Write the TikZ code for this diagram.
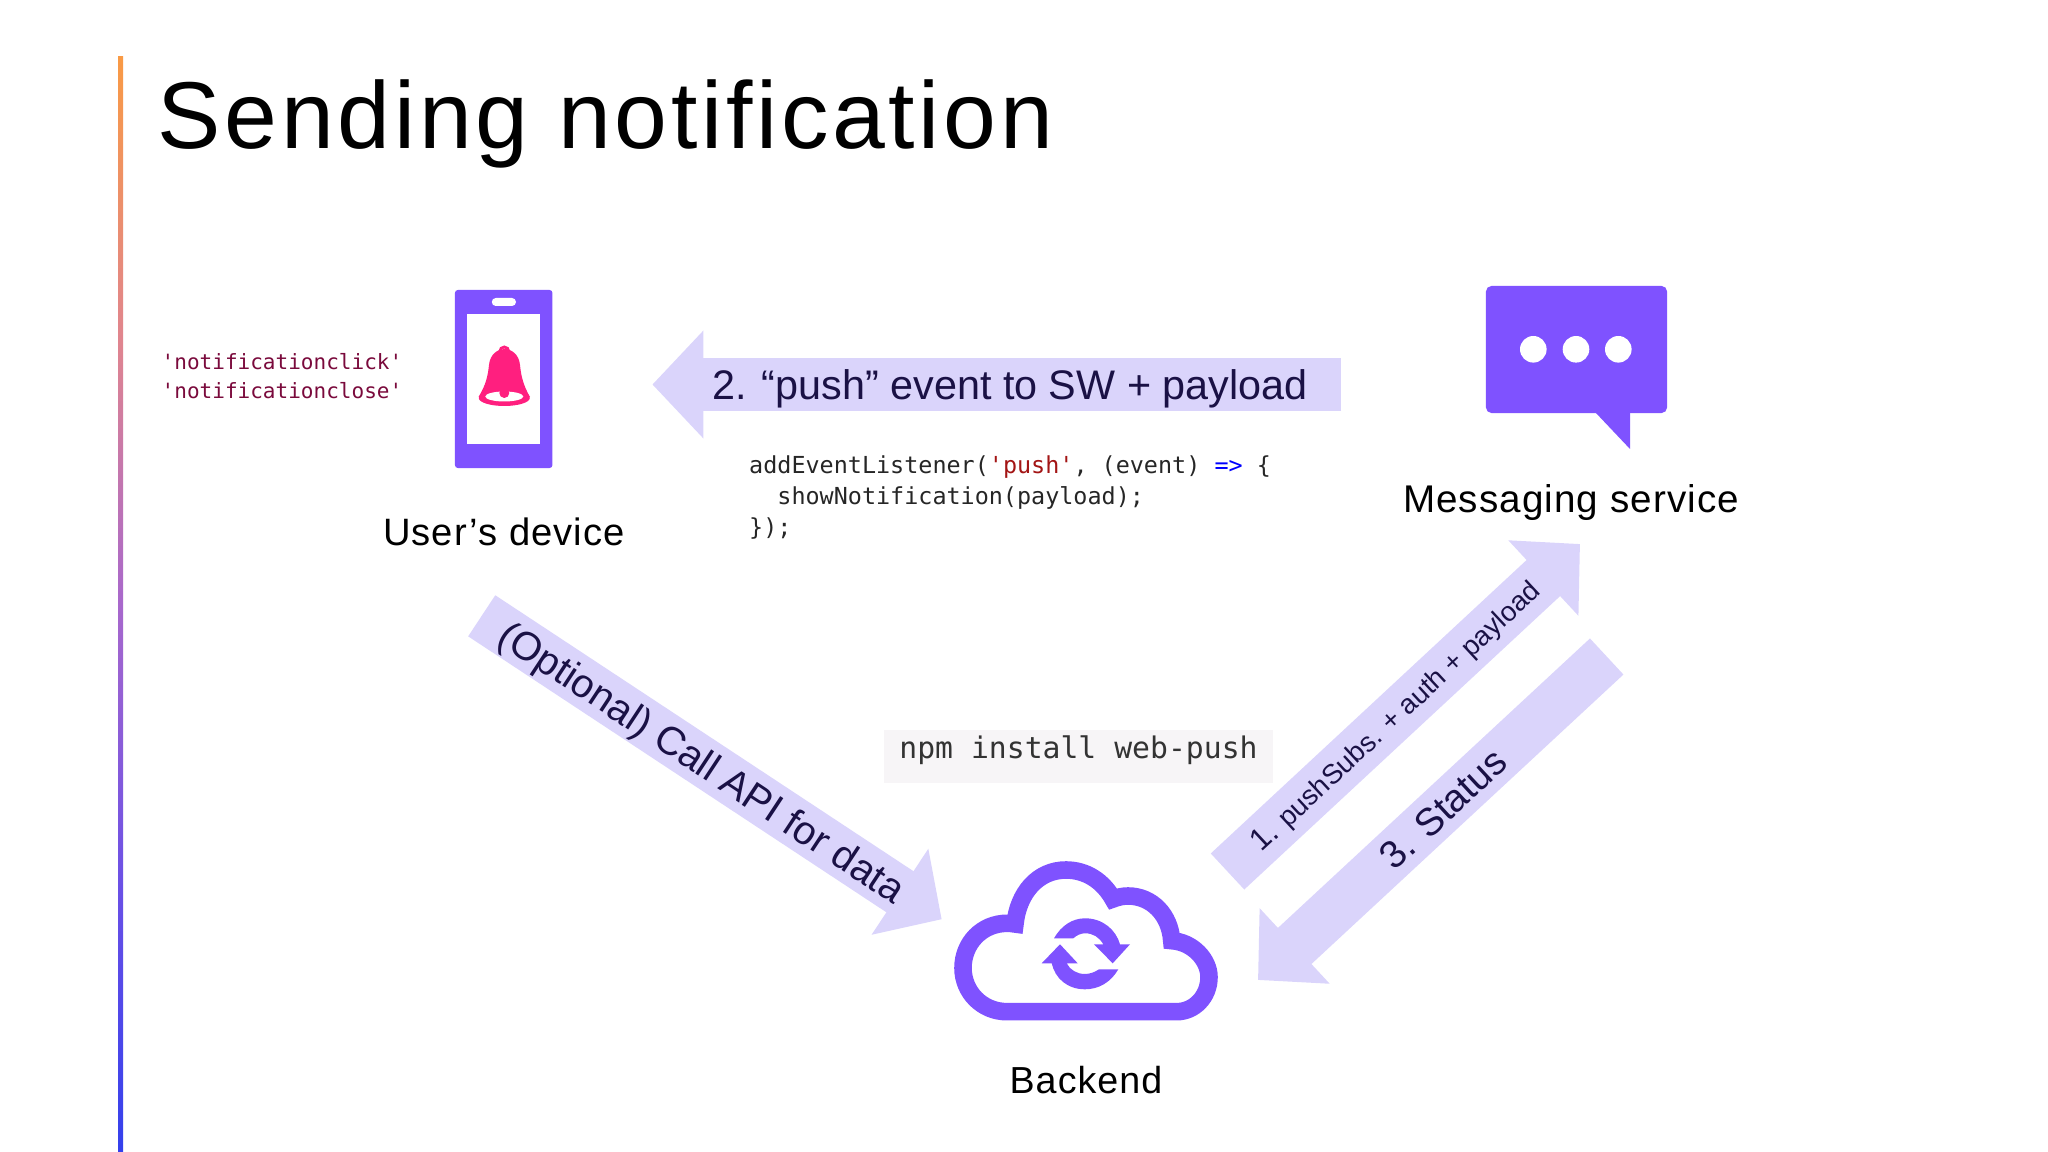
\documentclass[tikz,border=0pt]{standalone}
\usepackage{fontspec}
\setmainfont{Liberation Sans}
\setmonofont{DejaVu Sans Mono}
\usetikzlibrary{arrows.meta,shapes.geometric}

\definecolor{iconviolet}{HTML}{7F52FF}
\definecolor{flowfill}{HTML}{DAD4FB}
\definecolor{flowink}{HTML}{1A1145}
\definecolor{bellpink}{HTML}{FF1F7F}
\definecolor{eventred}{HTML}{7A0A3C}
\definecolor{stringred}{HTML}{A31515}
\definecolor{installbg}{HTML}{F7F5F7}
\definecolor{barone}{HTML}{3440EC}
\definecolor{bartwo}{HTML}{6A50E6}
\definecolor{barthree}{HTML}{A868CC}
\definecolor{barfour}{HTML}{E0858F}
\definecolor{barfive}{HTML}{F99A45}

\pgfdeclareverticalshading{barfade}{100bp}{
  color(0bp)=(barone);
  color(25bp)=(barone);
  color(37bp)=(bartwo);
  color(50bp)=(barthree);
  color(62bp)=(barfour);
  color(75bp)=(barfive);
  color(100bp)=(barfive)}

\begin{document}
\begin{tikzpicture}[x=0.01cm,y=-0.01cm,
                    flowtext/.style={font=\fontsize{#1}{#1}\selectfont,text=flowink,
                      text depth=0pt,text height=0.716*#1pt,inner sep=0pt},
                    caption/.style={font=\fontsize{#1}{#1}\selectfont\addfontfeature{LetterSpace=2.8},
                      anchor=base,text=black}]
  \tikzstyle{flow}=[line width=14pt,draw=flowfill,-{Triangle[length=0.5cm,width=1cm,color=flowfill]}]
  \tikzstyle{icon}=[fill=iconviolet,draw=none,inner sep=0pt,rounded corners=0.03cm]
  \tikzstyle{cloudline}=[draw=iconviolet,line width=5pt,miter limit=4,fill=white]

  \useasboundingbox (0,0) rectangle (2048,1152);

  \shade[shading=barfade] (118,57) rectangle (123,1152);
  \node[anchor=base west,inner sep=0pt,font=\fontsize{27}{27}\selectfont\addfontfeature{LetterSpace=3.9}]
        (title) at (157,149) {Sending notification};

  \node[icon,minimum width=0.975cm,minimum height=1.78cm] (phone) at (503.7,379) {};
  \node[fill=white,inner sep=0pt,minimum width=0.734cm,minimum height=1.3cm] (screen) at (503.7,379) {};
  \node[fill=white,inner sep=0pt,rounded corners=0.04cm,minimum width=0.242cm,minimum height=0.08cm] (speaker) at (503.9,302) {};
  \fill[bellpink] (478.5,397) .. controls (486,385) and (488,375) .. (489,365)
    .. controls (490,354) and (498,349) .. (504.3,349)
    .. controls (511,349) and (519,354) .. (520,365)
    .. controls (521,375) and (523,385) .. (530,397) -- cycle;
  \draw[bellpink,line width=0.8pt] (504.3,351.5) circle (4.5);
  \fill[bellpink] (504.3,398) ellipse (25.5 and 8);
  \fill[white] (504.3,396.5) ellipse (19 and 5);
  \fill[bellpink] (504.3,393) circle (5);
  \node[caption=10.85] (device) at (504,546) {User’s device};

  \node[anchor=north west,align=left,inner sep=0pt,text=eventred,
        font=\fontsize{5.98}{8.1}\selectfont\ttfamily] (events) at (161,353)
        {'notificationclick'\\'notificationclose'};

  \node[icon,rounded corners=0.055cm,minimum width=1.81cm,minimum height=1.27cm] (bubble) at (1576.5,349.5) {};
  \fill[iconviolet] (1595,412) -- (1630,449) -- (1630,412) -- cycle;
  \foreach \x in {1533.3,1576,1618.3}
    \fill[white] (\x,349.3) circle (13.3);
  \node[caption=10.98] (messaging) at (1571,512) {Messaging service};

  \draw[cloudline] (1007,1011.7) -- (1176.7,1011.7)
    .. controls (1194,1011.7) and (1209,997) .. (1209,977)
    .. controls (1209,960) and (1193,942) .. (1171.7,940.7)
    .. controls (1170,915) and (1152,896) .. (1128,896)
    .. controls (1123,896) and (1118,897) .. (1113,899)
    .. controls (1103,881) and (1086,870) .. (1066,870)
    .. controls (1037,870) and (1018,894) .. (1015,924)
    .. controls (1012,923.5) and (1010,923.3) .. (1007,923.3)
    .. controls (982,923.3) and (963,943) .. (963,968)
    .. controls (963,992) and (982,1011.7) .. (1007,1011.7) -- cycle;
  \fill[iconviolet] (1054,938.3) .. controls (1061,926) and (1072,918.3) .. (1085,918.3)
    .. controls (1103,918.3) and (1116,930) .. (1120,944.3) -- (1130,944.3) -- (1112.7,963.3) -- (1094,944.3)
    -- (1103.3,944.3) .. controls (1099,937) and (1093,933.3) .. (1085,933.3)
    .. controls (1081,933.3) and (1077,935) .. (1073.3,938.3) -- cycle;
  \fill[iconviolet] (1118.3,969.3) .. controls (1111,982) and (1099,989.3) .. (1085,989.3)
    .. controls (1067,989.3) and (1055,978) .. (1051.7,963.3) -- (1041.7,963.3) -- (1060,944.3) -- (1077.7,963.3)
    -- (1066.7,963.3) .. controls (1070,970) and (1077,974) .. (1085,974)
    .. controls (1090,974) and (1095,972) .. (1099,969.3) -- cycle;
  \node[caption=10.7] (backend) at (1086,1093) {Backend};

  \coordinate (pushTail) at (1341,384.5);
  \coordinate (pushTip) at (652.4,384.5);
  \coordinate (callTail) at (481.7,615.8);
  \coordinate (callTip) at (941.7,919.3);
  \coordinate (subsTail) at (1227.5,871.5);
  \coordinate (subsTip) at (1580,544);
  \coordinate (statusTail) at (1606.7,656.5);
  \coordinate (statusTip) at (1258,980);

  \draw[flow,line width=14.8pt,-{Triangle[length=0.51cm,width=1.05cm,color=flowfill]}]
    (pushTail) -- node[pos=0.481,flowtext=11.75] (pushText) {2. “push” event to SW + payload} (pushTip);
  \draw[flow] (callTail) -- node[pos=0.48,sloped,flowtext=11.35] (callText) {(Optional) Call API for data} (callTip);
  \draw[flow] (subsTail) -- node[pos=0.476,sloped,flowtext=7.85] (subsText) {{\fontsize{8.8}{8.8}\selectfont 1.} pushSubs. + auth + payload} (subsTip);
  \draw[flow] (statusTail) -- node[pos=0.47,sloped,flowtext=11] (statusText) {3. Status} (statusTip);

  \node[anchor=north west,align=left,inner sep=0pt,text=black!85,
        font=\fontsize{6.66}{8.8}\selectfont\ttfamily] (listener) at (748.5,455)
        {addEventListener({\color{stringred}'push'}, (event) {\color{blue}=>} \{\\
         \ \ showNotification(payload);\\
         \});};

  \node[fill=installbg,inner sep=0pt,minimum width=3.89cm,minimum height=0.533cm,text=black!80,
        text height=0.13cm,text depth=0.10cm,
        font=\fontsize{8.46}{10}\selectfont\ttfamily] (install) at (1078.5,756.6) {npm install web-push};
\end{tikzpicture}
\end{document}
